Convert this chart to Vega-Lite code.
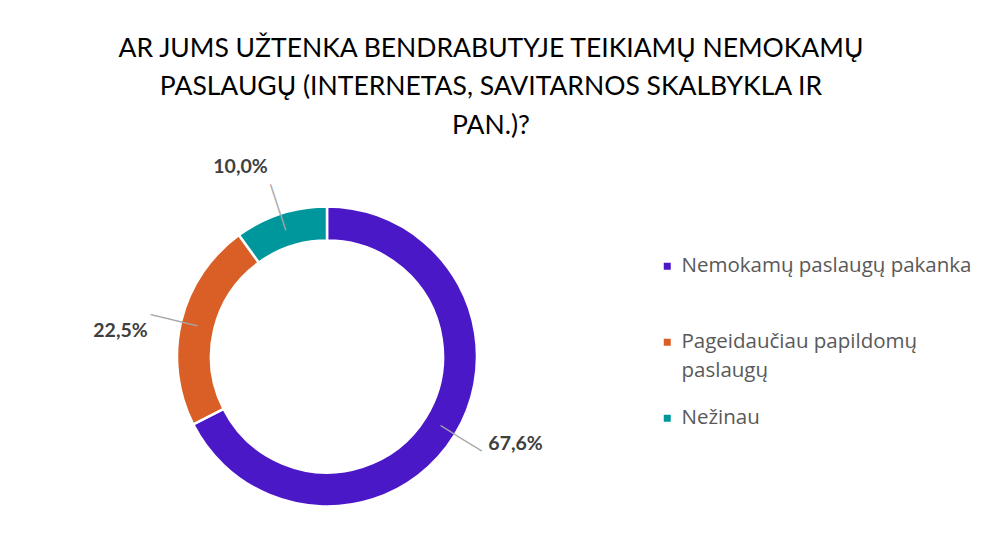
{
  "$schema": "https://vega.github.io/schema/vega-lite/v6.json",
  "width": 310,
  "height": 393,
  "autosize": "none",
  "padding": {"left": 172, "top": 160, "right": 503, "bottom": 3},
  "background": "white",
  "config": {"view": {"stroke": null}, "style": {"guide-label": {"lineHeight": 29}}},
  "title": {
    "text": ["AR JUMS UŽTENKA BENDRABUTYJE TEIKIAMŲ NEMOKAMŲ", "PASLAUGŲ (INTERNETAS, SAVITARNOS SKALBYKLA IR", "PAN.)?"],
    "anchor": "middle",
    "frame": "group",
    "dx": 164,
    "offset": 18,
    "font": "Lato",
    "fontSize": 26.5,
    "fontWeight": "normal",
    "color": "#000000",
    "lineHeight": 38.5
  },
  "data": {
    "values": [
      {"category": "Nemokamų paslaugų pakanka", "value": 67.6, "label": "67,6%"},
      {"category": "Pageidaučiau papildomų paslaugų", "value": 22.5, "label": "22,5%"},
      {"category": "Nežinau", "value": 10.0, "label": "10,0%"}
    ]
  },
  "encoding": {
    "theta": {"field": "value", "type": "quantitative", "stack": true},
    "order": {"field": "value", "type": "quantitative", "sort": "descending"}
  },
  "layer": [
    {
      "mark": {"type": "arc", "innerRadius": 116, "outerRadius": 150, "stroke": "white", "strokeWidth": 2.5},
      "encoding": {
        "color": {
          "field": "category",
          "type": "nominal",
          "sort": null,
          "scale": {
            "domain": ["Nemokamų paslaugų pakanka", "Pageidaučiau papildomų paslaugų", "Nežinau"],
            "range": ["#4B18C8", "#D95F26", "#00979C"]
          },
          "legend": {
            "orient": "none",
            "legendX": 485,
            "legendY": 96,
            "title": null,
            "symbolType": "square",
            "symbolSize": 49,
            "symbolStrokeWidth": 0,
            "labelFont": "Open Sans",
            "labelFontSize": 20.5,
            "labelColor": "#595959",
            "labelOffset": 4,
            "labelLimit": 400,
            "rowPadding": 26,
            "gridAlign": "all",
            "padding": 0,
            "labelExpr": "datum.label == 'Pageidaučiau papildomų paslaugų' ? ['Pageidaučiau papildomų', 'paslaugų'] : datum.label"
          }
        }
      }
    },
    {
      "mark": {"type": "text", "radius": 157, "font": "DejaVu Sans", "fontSize": 16, "align": "center", "baseline": "middle"},
      "encoding": {
        "text": {"value": "─────"},
        "color": {"value": "#A6A6A6"},
        "angle": {
          "field": "value",
          "type": "quantitative",
          "scale": {"domain": [10, 22.5, 67.6], "range": [252, 193.6, 31.6], "zero": false, "nice": false},
          "legend": null
        }
      }
    },
    {
      "mark": {"type": "text", "radius": 208, "thetaOffset": -0.115, "font": "Lato", "fontSize": 19.5, "fontWeight": "bold"},
      "encoding": {
        "text": {"field": "label"},
        "color": {"value": "#404040"}
      }
    }
  ]
}
